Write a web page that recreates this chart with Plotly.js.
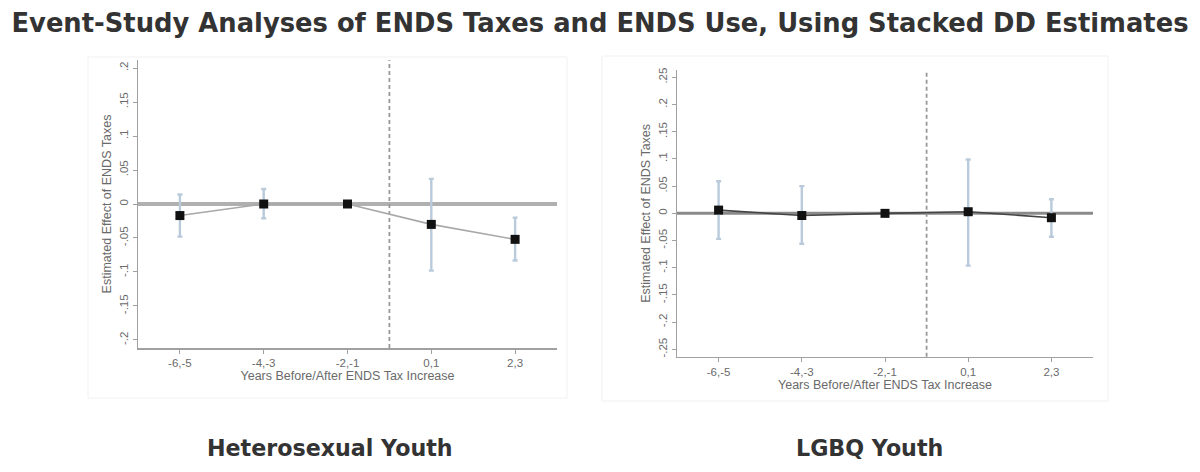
<!DOCTYPE html>
<html>
<head>
<meta charset="utf-8">
<script src="https://cdn.plot.ly/plotly-3.0.1.min.js"></script>
<style>html,body{margin:0;padding:0;background:#fff;}#chart{width:1200px;height:472px;}</style>
</head>
<body>
<div id="chart"></div>
<script>
// Data
const categories = ["-6,-5", "-4,-3", "-2,-1", "0,1", "2,3"];
const heteroEst = [-0.017, 0.000, 0.000, -0.030, -0.052];
const heteroLo  = [-0.048, -0.021, 0.000, -0.098, -0.083];
const heteroHi  = [0.014, 0.022, 0.000, 0.037, -0.020];
const lgbqEst = [0.006, -0.004, 0.000, 0.003, -0.008];
const lgbqLo  = [-0.047, -0.056, 0.000, -0.096, -0.043];
const lgbqHi  = [0.059, 0.050, 0.000, 0.099, 0.026];
const heteroTicks = [-0.2, -0.15, -0.1, -0.05, 0, 0.05, 0.1, 0.15, 0.2];
const heteroTickText = ["-.2", "-.15", "-.1", "-.05", "0", ".05", ".1", ".15", ".2"];
const lgbqTicks = [-0.25, -0.2, -0.15, -0.1, -0.05, 0, 0.05, 0.1, 0.15, 0.2, 0.25];
const lgbqTickText = ["-.25", "-.2", "-.15", "-.1", "-.05", "0", ".05", ".1", ".15", ".2", ".25"];
const mainTitle = "Event-Study Analyses of ENDS Taxes and ENDS Use, Using Stacked DD Estimates";
const panelTitles = ["Heterosexual Youth", "LGBQ Youth"];
const xTitle = "Years Before/After ENDS Tax Increase";
const yTitle = "Estimated Effect of ENDS Taxes";

const W = 1200, H = 472;
const px = v => v / W;
const py = v => 1 - v / H;

function trace(est, lo, hi, xa, ya, lineColor) {
  return {
    x: categories, y: est, xaxis: xa, yaxis: ya,
    type: 'scatter', mode: 'lines+markers',
    line: {color: lineColor, width: 1.6},
    marker: {symbol: 'square', size: 9, color: '#111'},
    error_y: {
      type: 'data', symmetric: false,
      array: hi.map((h, i) => h - est[i]),
      arrayminus: est.map((e, i) => e - lo[i]),
      color: '#b9cadb', thickness: 2.4, width: 2.5
    },
    hoverinfo: 'skip', showlegend: false, cliponaxis: false
  };
}

const tickFont = {family: 'Liberation Sans, Arial, sans-serif', size: 11.5, color: '#6a6a6a'};
const titleFont = {family: 'Liberation Sans, Arial, sans-serif', size: 12.5, color: '#6a6a6a'};

function xax(domain) {
  return {
    domain: domain, type: 'category', range: [-0.5, 4.5], fixedrange: true,
    showgrid: false, zeroline: false, showline: true, linecolor: '#a0a0a0', linewidth: 1.5,
    ticks: 'outside', ticklen: 4, tickcolor: '#a0a0a0', tickfont: tickFont,
    title: {text: xTitle, font: titleFont, standoff: 2}
  };
}
function yax(domain, range, tv, tt, anchor) {
  return {
    domain: domain, range: range, anchor: anchor, fixedrange: true,
    tickvals: tv, ticktext: tt, tickangle: -90,
    showgrid: false, zeroline: false, showline: true, linecolor: '#a0a0a0', linewidth: 1.5,
    ticks: 'outside', ticklen: 4, tickcolor: '#a0a0a0', tickfont: tickFont,
    title: {text: yTitle, font: titleFont, standoff: 3}
  };
}

const data = [
  trace(heteroEst, heteroLo, heteroHi, 'x', 'y', '#a8a8a8'),
  trace(lgbqEst, lgbqLo, lgbqHi, 'x2', 'y2', '#444')
];

const layout = {
  width: W, height: H,
  margin: {l: 0, r: 0, t: 0, b: 0},
  paper_bgcolor: '#fff', plot_bgcolor: '#fff',
  font: {family: 'DejaVu Sans, sans-serif', color: '#333'},
  title: {text: '<b>' + mainTitle + '</b>', x: 0.5, xanchor: 'center', y: py(23), yanchor: 'middle',
          font: {family: 'DejaVu Sans, sans-serif', size: 25.8, color: '#333'}},
  xaxis: Object.assign(xax([px(138), px(557)]), {anchor: 'y'}),
  yaxis: yax([py(348), py(60)], [-0.2118, 0.2118], heteroTicks, heteroTickText, 'x'),
  xaxis2: Object.assign(xax([px(677), px(1093)]), {anchor: 'y2'}),
  yaxis2: yax([py(356.7), py(70)], [-0.2635, 0.2635], lgbqTicks, lgbqTickText, 'x2'),
  shapes: [
    {type: 'rect', xref: 'paper', yref: 'paper', x0: px(88), x1: px(567), y0: py(398), y1: py(57),
     line: {color: '#f1f1f1', width: 1}, fillcolor: 'rgba(0,0,0,0)', layer: 'below'},
    {type: 'rect', xref: 'paper', yref: 'paper', x0: px(602), x1: px(1108), y0: py(401), y1: py(56),
     line: {color: '#f1f1f1', width: 1}, fillcolor: 'rgba(0,0,0,0)', layer: 'below'},
    {type: 'line', xref: 'x domain', yref: 'y', x0: 0, x1: 1, y0: 0, y1: 0,
     line: {color: '#b0b0b0', width: 4}, layer: 'below'},
    {type: 'line', xref: 'x', yref: 'y domain', x0: 2.5, x1: 2.5, y0: 0, y1: 1,
     line: {color: '#999', width: 1.8, dash: '4px,3px'}, layer: 'below'},
    {type: 'line', xref: 'x2 domain', yref: 'y2', x0: 0, x1: 1, y0: 0, y1: 0,
     line: {color: '#8a8a8a', width: 3}, layer: 'below'},
    {type: 'line', xref: 'x2', yref: 'y2 domain', x0: 2.5, x1: 2.5, y0: 0, y1: 1,
     line: {color: '#999', width: 1.8, dash: '4px,3px'}, layer: 'below'}
  ],
  annotations: [
    {text: '<b>' + panelTitles[0] + '</b>', xref: 'paper', yref: 'paper', x: px(330), y: py(448),
     xanchor: 'center', yanchor: 'middle', showarrow: false,
     font: {family: 'DejaVu Sans, sans-serif', size: 22.2, color: '#333'}},
    {text: '<b>' + panelTitles[1] + '</b>', xref: 'paper', yref: 'paper', x: px(869), y: py(448),
     xanchor: 'center', yanchor: 'middle', showarrow: false,
     font: {family: 'DejaVu Sans, sans-serif', size: 22.2, color: '#333'}}
  ]
};

Plotly.newPlot('chart', data, layout, {staticPlot: true, displayModeBar: false});
</script>
</body>
</html>
